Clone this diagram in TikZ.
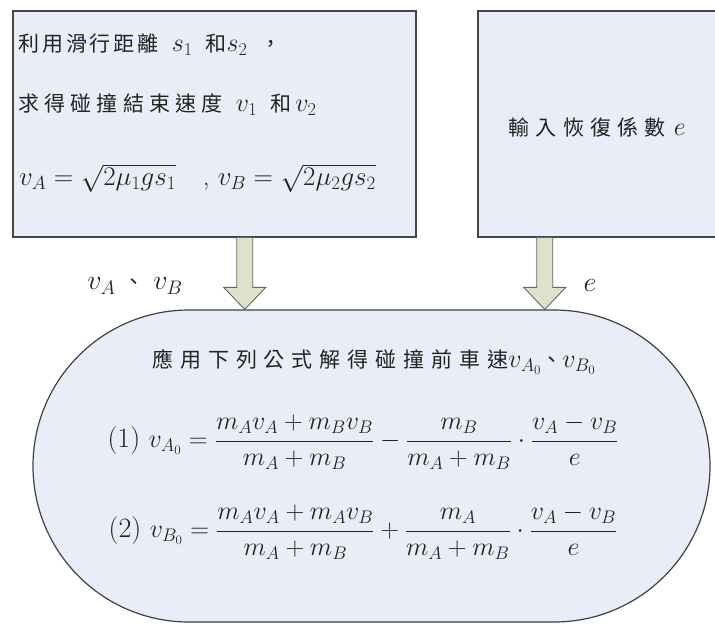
\RequirePackage{fix-cm}
\documentclass[tikz,border=0pt]{standalone}
\usepackage{amsmath}
\usepackage{fontspec}
\newfontfamily\zhfont{Noto Sans CJK TC}
\usetikzlibrary{shapes.misc,calc}

\definecolor{panelfill}{RGB}{232,237,247}
\definecolor{arrowfill}{RGB}{222,226,203}
\definecolor{inkgray}{RGB}{35,35,35}

\newcommand{\zh}[2][15]{{\fontsize{21}{25}\zhfont\addfontfeatures{LetterSpace=#1}#2}}
\newcommand{\blockarrow}[2]{%
  \draw[blockarrow] ($(#1)+(-8,0)$) -- ($(#2)+(-8,-22)$) -- ($(#2)+(-21,-22)$) -- (#2)
    -- ($(#2)+(21,-22)$) -- ($(#2)+(8,-22)$) -- ($(#1)+(8,0)$) -- cycle;}

\tikzset{
  panel/.style={draw=black!72, line width=1.5pt, fill=panelfill, inner sep=0pt},
  capsule/.style={rounded rectangle, draw=black!75, line width=1.2pt, fill=panelfill, inner sep=0pt},
  blockarrow/.style={draw=black!60, line width=0.9pt, fill=arrowfill, line join=miter},
  txt/.style={inner sep=0pt, text=inkgray, font=\fontsize{26}{30}\selectfont},
}

\begin{document}
\begin{tikzpicture}[x=1pt, y=-1pt]
\useasboundingbox (0,0) rectangle (715,624);
\fill[white] (0,0) rectangle (715,624);

% input boxes
\node[panel, anchor=north west, minimum width=403pt, minimum height=226pt] (calc) at (12,10) {};
\node[panel, anchor=north west, minimum width=250pt, minimum height=226pt] (coef) at (477,10) {};

\node[txt, anchor=west] (calcA) at ($(calc.north west)+(6,35)$)
  {\zh[14]{利用滑行距離}\enspace$s_1$\enspace\zh{和}$s_2$\enspace\zh{，}};
\node[txt, anchor=west] (calcB) at ($(calc.north west)+(6,95)$)
  {\zh[25]{求得碰撞結束速度}\enspace$v_1$\enspace\zh{和}\,$v_2$};
\node[txt, anchor=west, font=\fontsize{27}{31}\selectfont] (calcC) at ($(calc.north west)+(7,168)$)
  {$v_A = \sqrt{2\mu_1 g s_1}$\quad,\ $v_B = \sqrt{2\mu_2 g s_2}$};

\node[txt] (coefA) at (597,127) {\zh[30]{輸入恢復係數} $e$};

% result capsule
\node[capsule, minimum width=677pt, minimum height=312pt] (solve) at (371.5,466) {};

\node[txt] (title) at (374,362) {\zh[33]{應用下列公式解得碰撞前車速}$v_{A_0}$\zh[0]{、}$v_{B_0}$};
\node[txt] (eqA) at (363,442)
  {\fontsize{28}{32}\selectfont(1)\ \fontsize{26}{30}\selectfont
   $\displaystyle v_{A_0} = \frac{m_A v_A + m_B v_B}{m_A + m_B} - \frac{m_B}{m_A + m_B}\cdot\frac{v_A - v_B}{e}$};
\node[txt] (eqB) at (363,532)
  {\fontsize{28}{32}\selectfont(2)\ \fontsize{26}{30}\selectfont
   $\displaystyle v_{B_0} = \frac{m_A v_A + m_A v_B}{m_A + m_B} + \frac{m_A}{m_A + m_B}\cdot\frac{v_A - v_B}{e}$};

% arrows into the capsule
\coordinate (tailL) at ([xshift=30.5pt]calc.south);
\coordinate (headL) at (tailL |- solve.north);
\coordinate (tailR) at ([xshift=-58pt]coef.south);
\coordinate (headR) at (tailR |- solve.north);
\blockarrow{tailL}{headL}
\blockarrow{tailR}{headR}

\node[txt, font=\fontsize{28}{32}\selectfont] (vlab) at (135,286) {$v_A$ \zh[0]{、} $v_B$};
\node[txt, font=\fontsize{28}{32}\selectfont] (elab) at (590,285) {$e$};
\end{tikzpicture}
\end{document}
